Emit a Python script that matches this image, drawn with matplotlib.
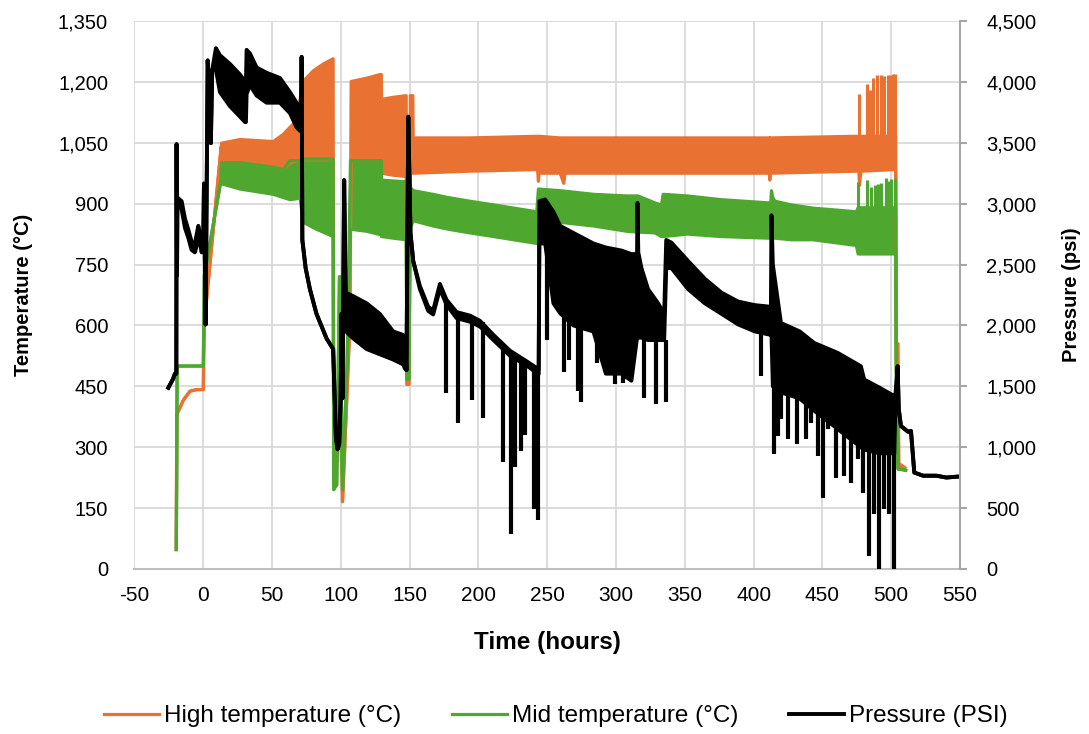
import numpy as np
import matplotlib
matplotlib.use("Agg")
import matplotlib.pyplot as plt
from matplotlib import font_manager
from matplotlib.ticker import FuncFormatter, MultipleLocator

# high temperature band: (time h, upper degC, lower degC)
high_rows = [
    (-19.6, 48, 48), (-19.3, 380, 380), (-17.4, 394, 394), (-14.5, 416, 416),
    (-9.7, 438, 438), (-4.8, 442, 442), (0.0, 442, 442), (0.6, 600, 600),
    (13.0, 1040, 1040), (13.3, 1049, 1001), (26.7, 1058, 1001), (50.9, 1053, 990),
    (58.2, 1071, 984), (63.0, 1088, 1000), (67.8, 1105, 1005), (70.0, 1150, 1005),
    (72.6, 1201, 1008), (79.9, 1227, 1008), (87.2, 1244, 1008), (94.4, 1257, 1008),
    (94.8, 300, 265), (97.6, 265, 265), (99.5, 720, 720), (101.2, 166, 166),
    (106.5, 600, 600), (107.5, 1201, 1006), (118.7, 1209, 1006), (128.3, 1218, 1006),
    (129.4, 1218, 1006), (129.6, 1157, 975), (138.0, 1162, 970), (147.5, 1166, 967),
    (148.0, 455, 455), (149.5, 455, 455), (150.5, 1166, 975), (152.3, 1166, 975),
    (152.6, 1062, 975), (193.8, 1062, 980), (243.0, 1066, 984), (243.6, 1060, 955),
    (244.0, 1066, 975), (259.4, 1062, 975), (262.0, 1062, 950), (263.0, 1062, 975),
    (304.0, 1062, 975), (411.5, 1062, 975), (411.8, 1060, 958), (412.2, 1062, 975),
    (474.5, 1066, 980), (476.5, 1066, 980), (477.0, 1066, 945), (478.0, 1066, 980),
    (503.3, 1066, 984), (503.8, 555, 481), (505.0, 555, 481), (505.5, 260, 245),
    (510.0, 250, 245),
]
high_spike_time = [476.7, 482.5, 484.4, 486.8, 489.7, 492.5, 495.0, 497.5, 499.5, 501.5, 503.0]
high_spike_top = [1170, 1196, 1180, 1209, 1218, 1218, 1215, 1218, 1218, 1220, 1220]

# mid temperature band
mid_rows = [
    (-19.6, 48, 48), (-19.0, 500, 500), (0.0, 500, 500), (0.8, 724, 724),
    (13.0, 960, 960), (13.3, 1001, 949), (26.7, 1001, 936), (50.9, 990, 923),
    (58.2, 984, 915), (63.0, 1006, 910), (67.8, 1006, 912), (70.3, 1006, 915),
    (72.7, 1010, 854), (82.3, 1010, 837), (94.4, 1010, 819), (94.8, 207, 195),
    (97.0, 207, 207), (99.0, 720, 720), (101.2, 195, 195), (104.5, 500, 500),
    (107.0, 1006, 837), (118.7, 1006, 832), (128.3, 1006, 824), (129.4, 1006, 824),
    (129.6, 958, 819), (138.0, 956, 815), (147.5, 954, 811), (148.0, 468, 468),
    (149.5, 468, 468), (150.5, 940, 840), (152.6, 932, 858), (167.0, 923, 845),
    (178.0, 915, 837), (193.8, 906, 828), (210.9, 897, 819), (242.4, 880, 802),
    (243.6, 936, 850), (259.4, 932, 854), (283.6, 923, 845), (307.8, 919, 832),
    (316.0, 919, 830), (328.2, 902, 828), (333.0, 897, 819), (334.3, 923, 819),
    (352.0, 919, 825), (376.0, 910, 819), (410.6, 902, 815), (412.5, 902, 815),
    (413.0, 932, 815), (414.0, 915, 815), (415.5, 906, 815), (427.5, 897, 811),
    (443.2, 889, 811), (474.7, 880, 797), (476.0, 890, 776), (503.3, 890, 776),
    (503.6, 516, 516), (505.0, 247, 247), (510.6, 243, 243),
]
mid_spike_time = [476.0, 482.3, 485.6, 488.0, 490.5, 492.9, 496.5, 498.5, 500.2, 502.5]
mid_spike_top = [954, 958, 940, 945, 948, 950, 962, 955, 960, 962]

# pressure trace: (time h, upper psi, lower psi)
pressure_rows = [
    (-25.4, 1488, 1488), (-22.0, 1560, 1560), (-20.6, 1604, 1604), (-19.6, 1604, 1604),
    (-19.4, 3488, 3488), (-19.1, 2413, 2413), (-18.8, 3050, 3050), (-15.7, 3020, 2950),
    (-13.3, 2876, 2800), (-10.9, 2789, 2720), (-8.5, 2688, 2620), (-6.1, 2673, 2600),
    (-3.6, 2818, 2700), (-2.4, 2760, 2680), (-1.2, 2644, 2600), (0.0, 2700, 2700),
    (0.5, 3165, 3165), (1.7, 2008, 2008), (3.2, 4176, 4176), (4.5, 3900, 3900),
    (5.5, 3497, 3497), (6.5, 4100, 4100), (9.2, 4277, 4100), (12.1, 4219, 3916),
    (19.4, 4147, 3800), (26.7, 4060, 3714), (30.3, 4003, 3670), (31.0, 4003, 3670),
    (31.5, 4263, 3900), (33.9, 4234, 3974), (38.8, 4118, 3887), (46.0, 4075, 3829),
    (55.7, 4032, 3829), (63.0, 3916, 3743), (67.8, 3829, 3627), (70.3, 3780, 3598),
    (71.2, 3750, 3598), (71.5, 4205, 4205), (72.0, 2702, 2702), (74.4, 2471, 2471),
    (77.5, 2298, 2298), (82.3, 2095, 2095), (89.6, 1893, 1893), (94.4, 1806, 1806),
    (96.4, 1084, 1084), (97.6, 983, 983), (98.8, 1026, 1026), (99.8, 1373, 1373),
    (100.5, 2095, 2095), (101.2, 1402, 1402), (102.4, 3193, 3193), (103.6, 2269, 1951),
    (109.0, 2240, 1893), (118.7, 2182, 1806), (128.3, 2095, 1763), (138.0, 1951, 1720),
    (145.3, 1922, 1680), (146.5, 1900, 1647), (147.7, 1633, 1633), (149.0, 3714, 3714),
    (150.6, 2760, 2760), (152.6, 2529, 2529), (157.4, 2326, 2300), (163.5, 2153, 2120),
    (167.1, 2124, 2090), (172.0, 2341, 2300), (176.8, 2211, 2170), (184.1, 2110, 2060),
    (194.0, 2080, 2030), (201.2, 2037, 1990), (210.9, 1922, 1880), (223.0, 1792, 1750),
    (235.1, 1705, 1670), (242.4, 1650, 1610), (243.8, 1640, 1600), (244.3, 3020, 2673),
    (248.5, 3034, 2673), (254.5, 2933, 2182), (259.4, 2818, 2100), (269.0, 2760, 2000),
    (283.6, 2673, 1950), (292.6, 2640, 1604), (304.0, 2615, 1604), (311.2, 2586, 1546),
    (315.3, 2586, 1900), (315.6, 3006, 1900), (316.2, 2600, 1900), (318.5, 2471, 1900),
    (323.3, 2298, 1880), (330.6, 2182, 1880), (335.0, 2095, 1880), (336.5, 2702, 2471),
    (340.3, 2680, 2471), (352.4, 2529, 2298), (364.5, 2384, 2182), (376.7, 2269, 2095),
    (388.8, 2196, 2008), (400.9, 2167, 1951), (412.6, 2153, 1922), (413.0, 2904, 1922),
    (414.0, 2500, 1500), (417.9, 2182, 1450), (419.9, 2020, 1450), (433.5, 1951, 1400),
    (444.1, 1856, 1300), (461.1, 1775, 1150), (478.0, 1665, 1000), (480.4, 1556, 980),
    (491.7, 1488, 950), (502.3, 1420, 950), (503.0, 1420, 1300), (504.7, 1665, 1665),
    (505.5, 1315, 1315), (507.1, 1174, 1174), (512.3, 1127, 1127), (514.4, 1133, 1133),
    (516.8, 792, 792), (523.2, 766, 766), (532.9, 766, 766), (540.1, 751, 751),
    (549.8, 760, 760),
]
# downward pressure dips: time, value before the dip, bottom of the dip
dip_time = [176.3, 185.5, 195.6, 203.1, 218.2, 223.5, 226.7, 230.8, 234.0, 240.5, 243.1,
            250.2, 262.3, 266.1, 272.7, 274.4, 286.5, 299.3, 305.4, 320.4, 328.9, 336.0,
            405.3, 414.5, 417.4, 419.9, 425.2, 431.5, 438.0, 441.7, 446.5, 450.2, 453.8,
            459.9, 465.9, 470.8, 475.6, 479.2, 484.1, 487.7, 491.4, 495.0, 498.6, 502.3]
dip_from = [2200, 2100, 2080, 2030, 1800, 1780, 1760, 1720, 1700, 1640, 1620,
            2673, 2100, 2050, 2000, 2000, 1950, 1604, 1604, 1900, 1880, 1880,
            1951, 1500, 1450, 1450, 1450, 1400, 1400, 1350, 1300, 1250, 1250,
            1150, 1100, 1100, 1050, 1000, 980, 970, 950, 950, 950, 950]
dip_to = [1445, 1199, 1387, 1243, 881, 289, 838, 968, 1100, 491, 405,
          1878, 1618, 1720, 1459, 1373, 1690, 1517, 1531, 1402, 1358, 1373,
          1583, 942, 1092, 1229, 1065, 1024, 1065, 1201, 928, 587, 1147,
          751, 764, 710, 901, 628, 109, 450, 0, 491, 450, 0]

high_t, high_up, high_lo = np.array(high_rows, dtype=float).T
mid_t, mid_up, mid_lo = np.array(mid_rows, dtype=float).T
p_t, p_up, p_lo = np.array(pressure_rows, dtype=float).T

orange = "#E97132"
green = "#4EA72E"
black = "#000000"
grid_c = "#D9D9D9"

names = {f.name for f in font_manager.fontManager.ttflist}
if "Liberation Sans Narrow" in names:
    narrow, small_sz, big_sz = "Liberation Sans Narrow", 17.5, 18
else:
    narrow, small_sz, big_sz = "Liberation Sans", 15, 17.5

plt.rcParams["font.family"] = ["Liberation Sans", "DejaVu Sans"]
plt.rcParams["axes.unicode_minus"] = False

fig = plt.figure(figsize=(10.89, 7.34), dpi=100)
ax = fig.add_axes([0.1235, 0.2248, 0.758, 0.7466])
ax2 = ax.twinx()

lw_t = 2.3
ax.fill_between(high_t, high_lo, high_up, color=orange, lw=0)
h_line, = ax.plot(high_t, high_up, color=orange, lw=lw_t, label="High temperature (°C)")
ax.plot(high_t, high_lo, color=orange, lw=lw_t)
ax.vlines(high_spike_time, 1000, high_spike_top, color=orange, lw=2.2)

ax.fill_between(mid_t, mid_lo, mid_up, color=green, lw=0)
m_line, = ax.plot(mid_t, mid_up, color=green, lw=lw_t, label="Mid temperature (°C)")
ax.plot(mid_t, mid_lo, color=green, lw=lw_t)
ax.vlines(mid_spike_time, 880, mid_spike_top, color=green, lw=2.2)

ax2.fill_between(p_t, p_lo, p_up, color=black, lw=0)
p_line, = ax2.plot(p_t, p_up, color=black, lw=2.8, label="Pressure (PSI)")
ax2.plot(p_t, p_lo, color=black, lw=2.8)
ax2.vlines(dip_time, dip_to, dip_from, color=black, lw=3.0)

ax.set_xlim(-50, 550)
ax.set_ylim(0, 1350)
ax2.set_ylim(0, 4500)
ax.xaxis.set_major_locator(MultipleLocator(50))
ax.yaxis.set_major_locator(MultipleLocator(150))
ax2.yaxis.set_major_locator(MultipleLocator(500))
comma = FuncFormatter(lambda v, p: f"{v:,.0f}")
ax.yaxis.set_major_formatter(comma)
ax2.yaxis.set_major_formatter(comma)
ax.xaxis.set_major_formatter(FuncFormatter(lambda v, p: f"{v:.0f}"))

ax.grid(True, color=grid_c, lw=1.3)
ax.set_axisbelow(True)
for s in ["top", "left", "right"]:
    ax.spines[s].set_visible(False)
ax.spines["bottom"].set_color("#BFBFBF")
ax.spines["bottom"].set_linewidth(1.5)
for s in ["top", "left", "bottom"]:
    ax2.spines[s].set_visible(False)
ax2.spines["right"].set_color("#A6A6A6")
ax2.spines["right"].set_linewidth(1.5)

ax.tick_params(axis="y", length=0, pad=19, labelsize=14.5)
ax.tick_params(axis="x", length=0, pad=12)
for lab in ax.get_xticklabels():
    lab.set_family(narrow)
    lab.set_fontsize(small_sz)
ax2.tick_params(axis="y", length=5, width=1.5, color="#A6A6A6", direction="out", pad=14, labelsize=14.5)

ax.set_ylabel("Temperature (°C)", fontsize=14.5, fontweight="bold")
ax.yaxis.set_label_coords(-0.123, 0.5)
ax2.set_ylabel("Pressure (psi)", fontsize=14.5, fontweight="bold")
ax2.yaxis.set_label_coords(1.124, 0.5)
ax.set_xlabel("Time (hours)", fontsize=big_sz, fontweight="bold", family=narrow)
ax.xaxis.set_label_coords(0.5, -0.114)

fig.legend(handles=[h_line, m_line, p_line], loc="center", bbox_to_anchor=(0.5106, 0.0245),
           ncol=3, frameon=False, handlelength=2.26, handletextpad=0.2, columnspacing=2.1,
           prop={"family": narrow, "size": big_sz})

fig.savefig("out.png", dpi=100)
